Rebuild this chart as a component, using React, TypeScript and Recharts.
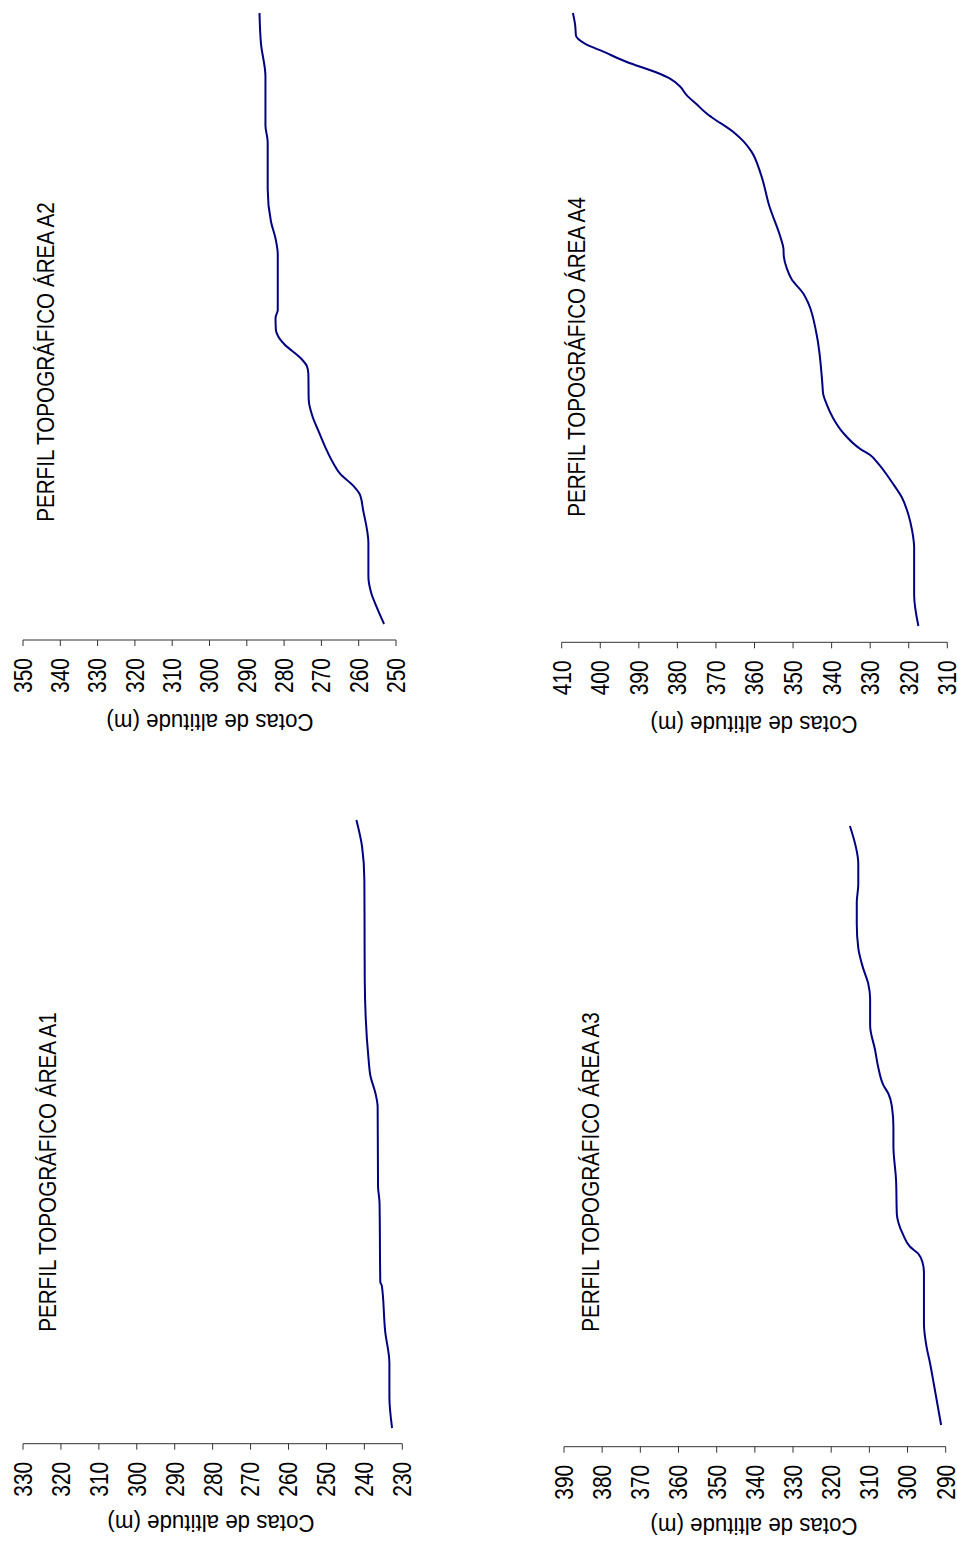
import React from "react";
import { LineChart, Line, XAxis, YAxis } from "recharts";

// perfis topográficos - distancia em % do perfil, cotas em metros
const a1Distance = [0, 5.1, 10.7, 15.8, 23.4, 24.0, 37.0, 39.8, 52.8, 55.1, 57.9, 60.7, 73.7, 90.1, 95.6, 100];
const a1Altitude = [232.7, 233.4, 233.4, 234.5, 235.4, 235.8, 236.0, 236.4, 236.5, 237.1, 238.4, 238.9, 239.9, 240.0, 240.6, 242.1];
const a1Ticks = [230, 240, 250, 260, 270, 280, 290, 300, 310, 320, 330];

const a2Distance = [0, 2.8, 5.2, 7.8, 13.2, 18.6, 21.2, 22.6, 24.6, 26.3, 29.0, 31.6, 34.0, 36.7, 41.0, 42.2, 43.6, 45.7, 47.1, 48.1, 50.1, 51.4, 60.5, 63.1, 65.8, 71.2, 78.9, 81.6, 89.6, 95.0, 100];
const a2Altitude = [253.2, 255.2, 256.7, 257.4, 257.4, 258.8, 259.7, 261.4, 265.0, 266.8, 269.0, 270.8, 272.4, 273.4, 273.5, 273.9, 275.7, 279.8, 281.6, 282.2, 282.3, 281.7, 281.7, 282.3, 283.5, 284.4, 284.4, 285.0, 285.0, 286.2, 286.6];
const a2Ticks = [250, 260, 270, 280, 290, 300, 310, 320, 330, 340, 350];

const a3Distance = [0, 6.8, 10.3, 13.0, 16.9, 25.5, 27.2, 28.6, 29.8, 31.7, 33.8, 35.2, 40.8, 46.6, 49.8, 53.2, 55.3, 56.7, 59.8, 62.6, 66.7, 71.2, 73.7, 76.4, 79.6, 83.7, 87.2, 90.3, 93.6, 100];
const a3Altitude = [291.2, 293.1, 294.1, 295.0, 295.7, 295.7, 296.1, 297.2, 299.4, 301.1, 302.4, 302.8, 303.0, 303.7, 303.7, 304.1, 305.0, 306.3, 307.7, 308.5, 309.8, 309.8, 310.3, 311.7, 312.9, 313.3, 313.3, 312.9, 312.9, 315.1];
const a3Ticks = [290, 300, 310, 320, 330, 340, 350, 360, 370, 380, 390];

const a4Distance = [0, 5.1, 12.8, 15.5, 18.2, 21.0, 23.5, 26.5, 27.9, 28.9, 31.5, 33.9, 36.2, 37.9, 39.5, 47.6, 52.6, 54.2, 56.6, 58.3, 60.3, 61.6, 63.3, 68.6, 73.6, 77.5, 79.1, 80.4, 83.0, 83.6, 85.1, 86.6, 88.0, 89.3, 90.3, 92.0, 93.7, 95.0, 96.3, 98.0, 100];
const a4Altitude = [317.5, 318.6, 318.6, 319.1, 320.1, 321.8, 324.4, 327.9, 330.0, 332.6, 337.0, 339.6, 341.3, 342.2, 342.4, 343.9, 346.0, 347.3, 350.4, 351.6, 352.4, 352.5, 353.2, 356.2, 358.3, 360.9, 362.9, 365.1, 371.1, 372.4, 375.0, 377.6, 379.3, 381.9, 385.4, 393.1, 399.2, 404.0, 406.3, 406.5, 407.1];
const a4Ticks = [310, 320, 330, 340, 350, 360, 370, 380, 390, 400, 410];

const titles = [
  "PERFIL TOPOGRÁFICO ÁREA A1",
  "PERFIL TOPOGRÁFICO ÁREA A2",
  "PERFIL TOPOGRÁFICO ÁREA A3",
  "PERFIL TOPOGRÁFICO ÁREA A4",
];
const axisLabel = "Cotas de altitude (m)";

const FONT = '"Liberation Sans", Arial, Helvetica, sans-serif';

const AltTick = (props: any) => {
  const { x, y, payload } = props;
  return (
    <g transform={`translate(${x},${y})`}>
      <text x={0} y={0} dy="0.355em" textAnchor="end" fontSize={25} fill="#000" fontFamily={FONT} transform="scale(0.84,1)">
        {payload.value}
      </text>
    </g>
  );
};

// the page is printed sideways, so each chart is drawn upright and turned -90deg
const Profile = (p: any) => {
  const W = p.pageH;
  const H = p.pageW;
  const yw = 90;
  const margin = {
    top: p.maxX - p.left,
    bottom: H - (p.minX - p.left),
    left: p.top + W - p.axisY - yw,
    right: p.endY - p.top,
  };
  const data = p.dist.map((d: number, i: number) => ({ d, alt: p.alt[i] }));
  const tox = p.top + W - p.titleY;
  const toy = p.titleX - p.left;
  const lox = p.top + W - p.labelY;
  const loy = p.labelX - p.left;

  return (
    <div style={{ position: "absolute", left: p.left, top: p.top, width: p.pageW, height: p.pageH }}>
      <div
        style={{
          position: "absolute",
          left: 0,
          top: 0,
          width: W,
          height: H,
          transformOrigin: "0 0",
          transform: `translateY(${W}px) rotate(-90deg)`,
        }}
      >
        <LineChart width={W} height={H} data={data} margin={margin}>
          <XAxis type="number" dataKey="d" domain={[0, 100]} hide padding={{ left: p.axisY - p.startY, right: 0 }} />
          <YAxis
            type="number"
            domain={[p.ticks[0], p.ticks[p.ticks.length - 1]]}
            ticks={p.ticks}
            interval={0}
            width={yw}
            tick={(t: any) => <AltTick {...t} />}
            tickSize={6}
            tickMargin={12}
            stroke="#333"
            allowDataOverflow
          />
          <Line type="monotone" dataKey="alt" stroke="#000080" strokeWidth={2} dot={false} isAnimationActive={false} />
        </LineChart>
        <div
          style={{
            position: "absolute",
            left: tox - 300,
            top: toy - 15,
            width: 600,
            height: 30,
            lineHeight: "30px",
            textAlign: "center",
            fontSize: 24,
            fontFamily: FONT,
            whiteSpace: "nowrap",
            color: "#000",
            transform: "scaleX(0.86)",
          }}
        >
          {p.title}
        </div>
        <div
          style={{
            position: "absolute",
            left: lox - 200,
            top: loy - 15,
            width: 400,
            height: 30,
            lineHeight: "30px",
            textAlign: "center",
            fontSize: 24,
            fontFamily: FONT,
            whiteSpace: "nowrap",
            color: "#000",
            transform: "rotate(-90deg) scaleX(0.93)",
          }}
        >
          {axisLabel}
        </div>
      </div>
    </div>
  );
};

export default function App() {
  return (
    <div style={{ position: "absolute", left: 0, top: 0, width: 957, height: 1545, background: "#fff", overflow: "hidden" }}>
      <Profile
        left={0} top={0} pageW={470} pageH={770}
        dist={a2Distance} alt={a2Altitude} ticks={a2Ticks}
        maxX={23} minX={396} axisY={640} startY={624} endY={13}
        title={titles[1]} titleX={46} titleY={362} labelX={210} labelY={722}
      />
      <Profile
        left={480} top={0} pageW={477} pageH={770}
        dist={a4Distance} alt={a4Altitude} ticks={a4Ticks}
        maxX={561.7} minX={947.3} axisY={642.3} startY={626} endY={13}
        title={titles[3]} titleX={577} titleY={357} labelX={754} labelY={724}
      />
      <Profile
        left={0} top={780} pageW={470} pageH={765}
        dist={a1Distance} alt={a1Altitude} ticks={a1Ticks}
        maxX={23} minX={402.3} axisY={1443.7} startY={1428} endY={820}
        title={titles[0]} titleX={48} titleY={1172} labelX={211} labelY={1523}
      />
      <Profile
        left={480} top={780} pageW={477} pageH={765}
        dist={a3Distance} alt={a3Altitude} ticks={a3Ticks}
        maxX={564} minX={945.7} axisY={1446.7} startY={1425} endY={826}
        title={titles[2]} titleX={591} titleY={1172} labelX={754} labelY={1526}
      />
    </div>
  );
}
